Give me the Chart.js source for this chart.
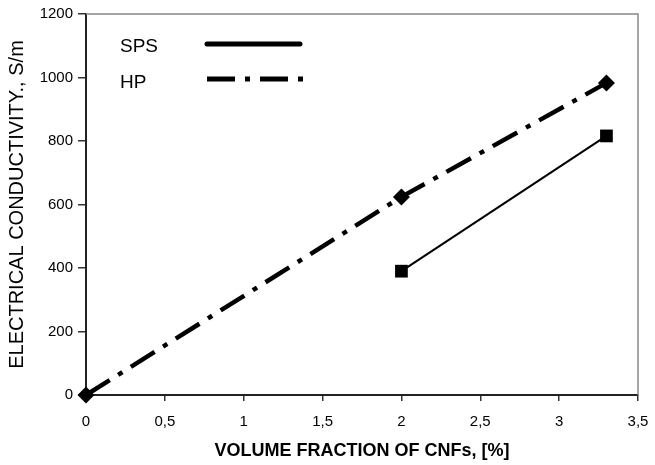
<!DOCTYPE html>
<html>
<head>
<meta charset="utf-8">
<script src="https://cdn.jsdelivr.net/npm/chart.js@4"></script>
<style>
  html, body { margin: 0; padding: 0; background: #fff; }
  #wrap { width: 655px; height: 465px; }
</style>
</head>
<body>
<div id="wrap"><canvas id="chart" width="655" height="465"></canvas></div>
<script>
// data
const spsX = [2, 3.3];
const spsY = [390, 816];
const hpX = [0, 2, 3.3];
const hpY = [0, 624, 983];
const xTicks = [0, 0.5, 1, 1.5, 2, 2.5, 3, 3.5];
const yTicks = [0, 200, 400, 600, 800, 1000, 1200];

const HP_DASH = [28, 10, 5, 10];
const FONT = '"Liberation Sans", Arial, sans-serif';

function toPoints(xs, ys) {
    return xs.map((x, i) => ({ x: x, y: ys[i] }));
}

// legend + top/right frame
const extras = {
    id: 'extras',
    afterDraw(chart) {
        const ctx = chart.ctx;
        const a = chart.chartArea;
        ctx.save();
        ctx.strokeStyle = '#888';
        ctx.lineWidth = 1.5;
        ctx.beginPath();
        ctx.moveTo(a.left, a.top);
        ctx.lineTo(a.right, a.top);
        ctx.lineTo(a.right, a.bottom);
        ctx.stroke();

        ctx.fillStyle = '#000';
        ctx.font = '19px ' + FONT;
        ctx.textBaseline = 'middle';
        ctx.fillText('SPS', 120, 47);
        ctx.fillText('HP', 120, 83);
        ctx.strokeStyle = '#000';
        ctx.lineWidth = 5;
        ctx.lineCap = 'round';
        ctx.beginPath();
        ctx.moveTo(207, 44);
        ctx.lineTo(300, 44);
        ctx.stroke();
        ctx.lineCap = 'butt';
        ctx.setLineDash(HP_DASH);
        ctx.beginPath();
        ctx.moveTo(207, 79);
        ctx.lineTo(304, 79);
        ctx.stroke();
        ctx.restore();
    }
};

const tickFont = { family: FONT, size: 15 };

new Chart(document.getElementById('chart'), {
    type: 'scatter',
    data: {
        datasets: [
            {
                label: 'SPS',
                data: toPoints(spsX, spsY),
                showLine: true,
                borderColor: '#000',
                backgroundColor: '#000',
                borderWidth: 2,
                pointStyle: 'rect',
                pointRadius: 9,
                pointBorderWidth: 0,
                clip: false
            },
            {
                label: 'HP',
                data: toPoints(hpX, hpY),
                showLine: true,
                borderColor: '#000',
                backgroundColor: '#000',
                borderWidth: 4.5,
                borderDash: HP_DASH,
                pointStyle: 'rectRot',
                pointRadius: 8.5,
                pointBorderWidth: 0,
                clip: false
            }
        ]
    },
    options: {
        responsive: false,
        animation: false,
        layout: { padding: { top: 14, right: 17, left: 0, bottom: 0 } },
        plugins: { legend: { display: false }, tooltip: { enabled: false } },
        scales: {
            x: {
                type: 'linear',
                min: 0,
                max: 3.5,
                afterBuildTicks: s => { s.ticks = xTicks.map(v => ({ value: v })); },
                afterFit: s => { s.height = 70; s.paddingLeft = 0; s.paddingRight = 0; },
                ticks: {
                    color: '#000',
                    font: tickFont,
                    padding: 12,
                    callback: v => String(v).replace('.', ',')
                },
                grid: { display: true, drawOnChartArea: false, drawTicks: true, tickLength: 6, color: '#333', lineWidth: 1.5 },
                border: { display: true, color: '#222', width: 2 },
                title: { display: true, text: 'VOLUME FRACTION OF CNFs, [%]', color: '#000', font: { family: FONT, size: 18, weight: 'bold' }, padding: { top: 4, bottom: 3 } }
            },
            y: {
                min: 0,
                max: 1200,
                afterBuildTicks: s => { s.ticks = yTicks.map(v => ({ value: v })); },
                afterFit: s => { s.width = 86; s.paddingTop = 0; s.paddingBottom = 0; },
                ticks: { color: '#000', font: tickFont, padding: 5, callback: v => String(v) },
                grid: { display: true, drawOnChartArea: false, drawTicks: true, tickLength: 8, color: '#333', lineWidth: 1.5 },
                border: { display: true, color: '#222', width: 2 },
                title: { display: true, text: 'ELECTRICAL CONDUCTIVITY., S/m', color: '#000', font: { family: FONT, size: 20 }, padding: { top: 5, bottom: 4 } }
            }
        }
    },
    plugins: [extras]
});
</script>
</body>
</html>
